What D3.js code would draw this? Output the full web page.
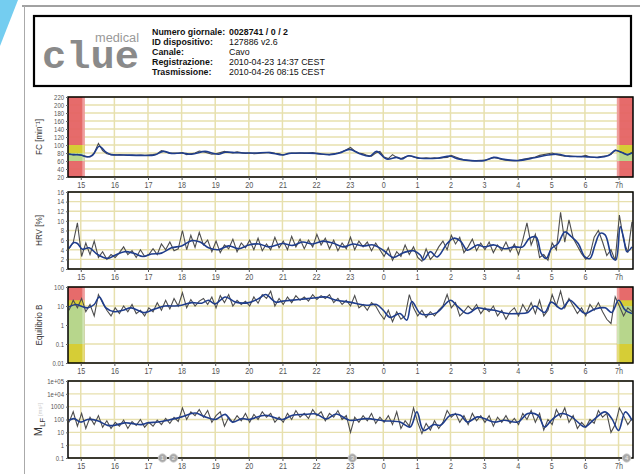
<!DOCTYPE html>
<html><head><meta charset="utf-8">
<script src="https://cdn.jsdelivr.net/npm/d3@7"></script>
<style>
body{margin:0;background:#fff;}
svg{display:block;font-family:"Liberation Sans",Arial,sans-serif;}
</style></head><body>
<svg id="chart" width="640" height="474"></svg>
<script>
// raw samples: one every STEP hours from START (clock hours, past midnight = 24+)
const START = 14.65, STEP = 0.125;

const headerLabels = ["Numero giornale:", "ID dispositivo:", "Canale:", "Registrazione:", "Trasmissione:"];
const headerValues = ["0028741 / 0 / 2", "127886 v2.6", "Cavo", "2010-04-23 14:37 CEST", "2010-04-26 08:15 CEST"];

const hourTicks = [15,16,17,18,19,20,21,22,23,24,25,26,27,28,29,30,31];
const hourLabels = ["15","16","17","18","19","20","21","22","23","0","1","2","3","4","5","6","7h"];

const fcTicks = [20,40,60,80,100,120,140,160,180,200,220];
const hrvTicks = [0,2,4,6,8,10,12,14,16];
const eqTicks = [0.01,0.1,1,10,100];
const eqLabels = ["0.01","0.1","1","10","100"];
const mlfTicks = [0.1,1,10,100,1000,1e4,1e5];
const mlfLabels = ["0.1","1","10","100","1000","1e+04","1e+05"];

const fcRaw = [
  78,75,77,74,72,70,80,104,86,78,
  76,75,76,75,74,75,74,75,74,75,
  76,78,86,83,79,80,79,81,76,78,
  80,85,83,80,77,78,81,84,82,80,
  83,81,79,80,78,79,80,81,82,79,
  78,75,78,80,79,80,79,80,81,78,
  77,77,76,78,80,83,88,94,85,80,
  78,74,72,80,84,70,66,76,69,66,
  70,73,70,67,67,68,67,68,67,68,
  69,74,70,66,63,62,61,61,62,62,
  65,69,67,64,62,61,61,62,64,66,
  68,70,74,76,78,80,76,74,72,73,
  72,71,71,74,70,69,70,72,73,76,
  88,84,80,75,82];
const fcSmooth = [[14.65,77],[14.8,76],[15.0,75],[15.2,70],[15.35,74],[15.55,97],[15.75,82],[15.9,76],[16.3,75],[16.8,74],
  [17.2,75],[17.45,84],[17.7,79],[18.0,80],[18.3,77],[18.7,84],[18.9,80],[19.1,77],[19.3,82],[19.6,81],[19.9,80],
  [20.2,80],[20.6,81],[21.0,75],[21.2,79],[21.6,80],[22.0,79],[22.4,76],[22.7,80],[23.0,89],[23.3,78],[23.6,72],
  [23.8,84],[24.1,65],[24.4,69],[24.55,65],[24.75,73],[25.1,67],[25.6,67],[26.0,72],[26.2,66],[26.6,61],[27.0,61],
  [27.3,69],[27.6,64],[28.0,61],[28.5,68],[28.9,75],[29.2,77],[29.5,72],[30.0,71],[30.4,69],[30.7,74],[30.9,86],
  [31.1,81],[31.25,76],[31.4,80]];

const hrvRaw = [
  4.2,5.5,9.6,2.6,5.4,3.0,5.8,2.4,3.6,2.0,
  3.0,2.4,3.4,4.6,3.0,3.8,2.4,4.0,2.6,3.0,
  4.2,3.0,5.2,4.0,5.6,3.8,4.2,8.0,4.0,7.0,
  4.5,7.6,5.0,6.0,3.6,5.8,3.4,5.0,4.2,6.2,
  3.6,5.4,4.4,6.0,4.0,6.4,3.8,5.2,4.0,6.6,
  4.4,5.8,4.0,6.8,4.6,6.2,4.2,6.0,4.6,7.2,
  5.0,6.4,4.2,6.0,3.8,5.4,4.2,6.6,4.0,5.8,
  4.6,5.6,3.8,5.4,4.0,2.6,4.4,1.8,3.6,2.6,
  5.0,3.0,4.6,2.4,1.6,4.2,2.0,3.0,4.6,5.8,
  4.0,7.0,5.2,6.6,3.4,4.6,6.2,3.8,5.4,4.0,
  5.6,3.4,5.0,3.8,5.6,3.6,5.2,3.0,6.0,9.6,
  5.0,7.2,2.4,3.0,1.8,5.4,4.0,11.8,5.6,10.2,
  6.4,4.8,3.2,2.0,3.0,6.6,8.0,5.6,2.8,4.0,
  1.8,11.2,6.0,3.4,9.8];
const hrvSmooth = [[14.65,4.3],[14.8,5.5],[14.9,5.3],[15.05,4.1],[15.25,4.4],[15.5,3.0],[15.8,2.2],[16.0,2.8],[16.3,3.6],
  [16.6,3.2],[16.85,2.6],[17.1,3.1],[17.4,3.3],[17.7,4.4],[18.0,4.8],[18.3,5.9],[18.55,5.6],[18.8,4.4],[19.1,4.0],
  [19.4,4.8],[19.7,4.2],[20.0,5.0],[20.3,5.2],[20.6,4.6],[21.0,5.3],[21.3,4.9],[21.6,5.6],[21.9,5.2],[22.2,5.8],
  [22.5,5.4],[22.8,4.6],[23.1,5.2],[23.4,4.8],[23.7,5.0],[24.0,3.9],[24.3,2.4],[24.6,3.4],[24.9,3.8],[25.1,2.9],
  [25.2,1.9],[25.4,3.6],[25.6,2.5],[25.9,5.3],[26.1,6.4],[26.3,5.8],[26.5,3.9],[26.8,5.0],[27.0,4.6],[27.3,5.0],
  [27.6,4.2],[27.9,4.6],[28.15,4.6],[28.35,6.4],[28.55,6.6],[28.7,3.2],[28.85,2.2],[29.0,4.2],[29.2,5.3],[29.4,7.7],
  [29.6,6.7],[29.8,5.3],[30.0,2.5],[30.15,2.2],[30.3,5.0],[30.45,7.4],[30.6,7.1],[30.8,2.5],[30.92,1.9],[31.05,8.8],
  [31.15,6.5],[31.25,3.6],[31.4,4.6]];

const eqRaw = [
  6,20,8,25,5,12,3,40,15,6,
  3,8,4,10,5,12,4,6,3,8,
  5,15,6,20,7,25,10,50,8,22,
  10,18,25,12,30,8,35,15,40,10,
  20,12,18,10,30,14,40,25,60,10,
  25,12,30,15,35,20,30,18,40,22,
  35,25,40,15,25,12,20,10,35,8,
  12,6,15,10,4,2,6,1.5,5,2,
  3,40,8,3,6,2.5,5,3,6,10,
  40,8,15,3,5,10,6,12,4,8,
  5,10,3,6,2,5,8,3,12,5,
  15,4,20,3,6,40,10,60,8,25,
  10,4,8,3,12,6,15,5,2,1.2,
  30,10,3,8,5];
const eqSmooth = [[14.65,9],[14.85,12],[15.0,10],[15.2,8],[15.4,12],[15.55,30],[15.75,8],[16.0,5],[16.25,6],[16.5,8],
  [16.9,4.5],[17.2,7],[17.5,10],[17.8,10],[18.0,11],[18.3,15],[18.6,14],[18.8,20],[19.0,13],[19.3,30],[19.6,16],
  [20.0,15],[20.3,25],[20.5,40],[20.8,16],[21.0,18],[21.5,22],[22.0,27],[22.3,30],[22.6,20],[23.0,16],[23.5,11],
  [23.8,12],[24.0,6],[24.2,2.5],[24.5,4],[24.7,1.8],[24.85,17],[25.1,4],[25.3,3.5],[25.6,4.5],[26.0,20],[26.2,10],
  [26.5,4],[26.8,8],[27.0,7],[27.3,6],[27.7,4],[28.0,4],[28.3,4.6],[28.5,10],[28.8,4.6],[29.0,16],[29.3,7],
  [29.55,20],[29.8,8],[30.0,4],[30.3,7],[30.6,8],[30.8,4.6],[31.0,20],[31.2,6],[31.4,4]];

const mlfRaw = [
  60,400,30,300,20,150,40,200,25,80,
  20,60,30,90,20,70,35,100,25,60,
  30,90,40,120,50,150,70,800,100,400,
  200,600,150,500,60,200,400,30,150,60,
  200,80,300,60,250,100,400,150,300,60,
  150,60,300,100,500,150,300,120,600,200,
  400,80,300,150,500,100,200,10,150,60,
  200,80,300,50,150,60,200,40,400,20,
  80,30,800,60,8,50,15,80,20,60,
  500,150,300,60,200,40,300,80,200,60,
  200,30,150,60,200,50,120,40,300,100,
  500,60,300,15,100,40,600,150,800,60,
  200,20,60,25,100,50,500,150,300,10,
  40,800,200,40,120];
const mlfSmooth = [[14.65,87],[14.8,117],[15.0,63],[15.2,100],[15.5,80],[15.8,35],[16.0,35],[16.3,55],[16.5,50],
  [16.8,40],[17.0,55],[17.3,63],[17.6,87],[18.0,160],[18.4,320],[18.7,160],[19.0,100],[19.3,250],[19.5,63],
  [19.8,117],[20.0,100],[20.5,214],[21.0,100],[21.3,214],[21.7,250],[22.0,270],[22.3,110],[22.6,270],[23.0,87],
  [23.5,117],[24.0,80],[24.5,63],[24.8,26],[25.0,390],[25.2,14],[25.5,40],[25.7,35],[26.0,214],[26.3,214],
  [26.5,63],[26.8,160],[27.0,120],[27.3,63],[27.6,87],[28.0,63],[28.3,290],[28.6,214],[28.8,26],[29.0,87],
  [29.3,290],[29.6,160],[29.9,35],[30.0,26],[30.3,117],[30.6,390],[30.8,117],[31.0,14],[31.2,390],[31.4,87]];

// event markers on the last panel
const markerTimes = [17.43, 17.76, 23.08, 31.24];
const markerLabels = ["1", "2", "3", "4"];

// colored zones at start / end of the recording
const zoneWindows = [[14.62, 15.12], [30.95, 31.43]];
const RED = "#e46262", YEL = "#d6cd36", GRN = "#b7d68c";
const fcZones = [[20, 220, RED], [80, 100, YEL], [60, 80, GRN]];
const eqZones = [[0.01, 100, RED], [10, 20, YEL], [0.1, 10, GRN], [0.01, 0.1, YEL]];

const svg = d3.select("#chart");
const x = d3.scaleLinear().domain([14.62, 31.43]).range([68, 633]);

// squeeze text horizontally to mimic the narrow face of the original
function condense(sel, f) {
  sel.each(function () {
    const w = this.getComputedTextLength();
    if (w > 0) d3.select(this).attr("textLength", w * f).attr("lengthAdjust", "spacingAndGlyphs");
  });
}

// page furniture
svg.append("polygon").attr("points", "0,0 18,0 0,46").attr("fill", "#74cdf0");
svg.append("line").attr("x1", 22).attr("x2", 640).attr("y1", 6).attr("y2", 6).attr("stroke", "#444").attr("stroke-width", 1);
svg.append("line").attr("x1", 24.5).attr("x2", 24.5).attr("y1", 6).attr("y2", 474).attr("stroke", "#aaa").attr("stroke-width", 1);

// header box
const hdr = svg.append("g");
hdr.append("rect").attr("x", 34).attr("y", 16).attr("width", 597).attr("height", 70)
  .attr("fill", "none").attr("stroke", "#000").attr("stroke-width", 2.2);
hdr.append("text").attr("x", 42).attr("y", 68).attr("font-family", "Liberation Mono, monospace")
  .attr("font-weight", "bold").attr("font-size", 38).attr("textLength", 97).attr("lengthAdjust", "spacingAndGlyphs")
  .attr("fill", "#8a8a8a").text("clue");
hdr.append("text").attr("x", 139).attr("y", 42).attr("text-anchor", "end").attr("font-size", 12)
  .attr("fill", "#999").attr("textLength", 44).attr("lengthAdjust", "spacingAndGlyphs").text("medical");
headerLabels.forEach((s, i) => {
  hdr.append("text").attr("class", "hd").attr("x", 152).attr("y", 35 + i * 10).attr("font-size", 9.5)
    .attr("font-weight", "bold").attr("fill", "#111").text(s);
  hdr.append("text").attr("class", "hd").attr("x", 229).attr("y", 35 + i * 10).attr("font-size", 9.5)
    .attr("font-weight", i === 0 ? "bold" : "normal").attr("fill", "#111").text(headerValues[i]);
});
condense(hdr.selectAll("text.hd"), 0.93);

const panels = [
  { title: "FC [min⁻¹]", top: 97, bottom: 177, log: false, domain: [20, 220], ticks: fcTicks, labels: fcTicks.map(String), raw: fcRaw, smooth: fcSmooth, zones: fcZones },
  { title: "HRV [%]", top: 192, bottom: 269, log: false, domain: [0, 16], ticks: hrvTicks, labels: hrvTicks.map(String), raw: hrvRaw, smooth: hrvSmooth, zones: null },
  { title: "Equilibrio B", top: 287, bottom: 363, log: true, domain: [0.01, 100], ticks: eqTicks, labels: eqLabels, raw: eqRaw, smooth: eqSmooth, zones: eqZones },
  { title: "M", sub: "LF", unit: " [ms²]", top: 381, bottom: 458, log: true, domain: [0.1, 1e5], ticks: mlfTicks, labels: mlfLabels, raw: mlfRaw, smooth: mlfSmooth, zones: null, markers: true }
];

const GRID = "#e7e0ae";

panels.forEach((p, pi) => {
  const y = (p.log ? d3.scaleLog() : d3.scaleLinear()).domain(p.domain).range([p.bottom, p.top]);
  const g = svg.append("g");
  const clipId = "clip" + pi;
  svg.append("clipPath").attr("id", clipId).append("rect")
    .attr("x", x.range()[0]).attr("y", p.top).attr("width", x.range()[1] - x.range()[0]).attr("height", p.bottom - p.top);

  // grid
  g.append("g").selectAll("line").data(p.ticks).join("line")
    .attr("x1", x.range()[0]).attr("x2", x.range()[1]).attr("y1", d => y(d)).attr("y2", d => y(d))
    .attr("stroke", GRID).attr("stroke-width", 1.3);
  g.append("g").selectAll("line").data(hourTicks).join("line")
    .attr("x1", d => x(d)).attr("x2", d => x(d)).attr("y1", p.top).attr("y2", p.bottom)
    .attr("stroke", GRID).attr("stroke-width", 1.5);

  // zones, slightly see-through so the grid shows faintly
  if (p.zones) {
    zoneWindows.forEach((w, wi) => {
      p.zones.forEach(z => {
        g.append("rect").attr("x", x(w[0])).attr("width", x(w[1]) - x(w[0]))
          .attr("y", y(z[1])).attr("height", y(z[0]) - y(z[1])).attr("fill", z[2]).attr("opacity", z[2] === RED ? 0.94 : 1);
      });
      // pale seam on the inner edge
      const sx = wi === 0 ? x(w[1]) - 2.5 : x(w[0]);
      g.append("rect").attr("x", sx).attr("width", 2.5).attr("y", p.top).attr("height", p.bottom - p.top)
        .attr("fill", "#fff").attr("opacity", 0.35);
    });
  }

  // series
  const lines = g.append("g").attr("clip-path", `url(#${clipId})`);
  lines.append("path").datum(p.raw)
    .attr("d", d3.line().x((d, i) => x(START + i * STEP)).y(d => y(d)))
    .attr("fill", "none").attr("stroke", "#4d4d4d").attr("stroke-width", 1.1);
  lines.append("path").datum(p.smooth)
    .attr("d", d3.line().curve(d3.curveCatmullRom.alpha(0.5)).x(d => x(d[0])).y(d => y(d[1])))
    .attr("fill", "none").attr("stroke", "#1f3d8c").attr("stroke-width", 1.6);

  // frame
  g.append("rect").attr("x", x.range()[0]).attr("y", p.top).attr("width", x.range()[1] - x.range()[0])
    .attr("height", p.bottom - p.top).attr("fill", "none").attr("stroke", "#000").attr("stroke-width", 1.5);

  // axes
  const ya = g.append("g").attr("transform", `translate(${x.range()[0]},0)`)
    .call(d3.axisLeft(y).tickValues(p.ticks).tickFormat((d, i) => p.labels[i]).tickSize(2).tickPadding(2));
  ya.select(".domain").remove();
  ya.selectAll("line").attr("stroke", "#666");
  ya.selectAll("text").attr("font-size", 7).attr("fill", "#555");
  condense(ya.selectAll("text"), 0.85);

  const xa = g.append("g").attr("transform", `translate(0,${p.bottom})`)
    .call(d3.axisBottom(x).tickValues(hourTicks).tickFormat((d, i) => hourLabels[i]).tickSize(3).tickPadding(2));
  xa.select(".domain").remove();
  xa.selectAll("line").attr("stroke", "#555");
  xa.selectAll("text").attr("font-size", 9).attr("fill", "#555");
  condense(xa.selectAll("text"), 0.8);

  // title
  const cy = (p.top + p.bottom) / 2;
  const t = g.append("text").attr("transform", `translate(42,${cy}) rotate(-90)`).attr("text-anchor", "middle")
    .attr("font-size", 9.5).attr("fill", "#333").text(p.title);
  if (p.sub) {
    t.attr("font-size", 11);
    t.append("tspan").attr("font-size", 8).attr("dy", 3).text(p.sub);
    t.append("tspan").attr("dy", -3).attr("font-size", 6).attr("fill", "#ccc").text(p.unit);
  } else {
    condense(t, 0.85);
  }

  // markers
  if (p.markers) {
    const mk = g.append("g").selectAll("g").data(markerTimes).join("g")
      .attr("transform", d => `translate(${x(d)},${p.bottom})`);
    mk.append("circle").attr("r", 4.2).attr("fill", "#a9a9a9").attr("stroke", "#d0d0d0").attr("stroke-width", 0.8);
    mk.append("text").attr("text-anchor", "middle").attr("dy", 2.2).attr("font-size", 6).attr("fill", "#eee")
      .text((d, i) => markerLabels[i]);
  }
});
</script>
</body></html>
